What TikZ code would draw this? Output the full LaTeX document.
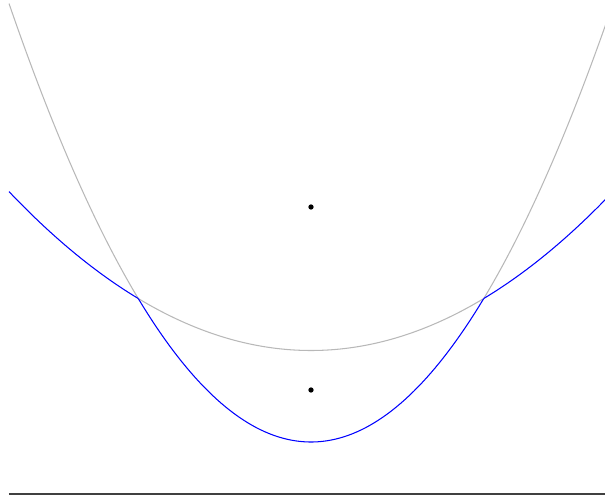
\documentclass[tikz,border=0pt]{standalone}
\usepackage{tikz}
\usetikzlibrary{positioning}
\usepackage{xcolor}

\begin{document}
\begin{tikzpicture}[x=1cm,y=1cm]
        \useasboundingbox (0,0) rectangle (12.1,9.96);
        \tikzset{focus/.style={circle,fill=black,inner sep=0pt,minimum size=3pt}}
        \node[focus] (fa) at (6.22,2.16) {};
        \node[focus] (fb) at (6.22,5.82) {};
        \coordinate (dl) at (0.18,0.08);
        \coordinate (dr) at (12.1,0.08);
        \draw[line width=1.1pt,black!75] (dl)--(dr);
        % parts left over
        \draw[black!28,line width=0.6pt,domain=-6.04:-3.455,samples=60] plot ({6.22+\x},{\x*\x/4.16+1.12});
        \draw[black!28,line width=0.6pt,domain=3.455:5.9,samples=60] plot ({6.22+\x},{\x*\x/4.16+1.12});
        \draw[black!28,line width=0.6pt,domain=-3.455:3.455,samples=80] plot ({6.22+\x},{\x*\x/11.48+2.95});
        % lower envelope
        \draw[blue,line width=0.6pt,domain=-6.04:-3.455,samples=60] plot ({6.22+\x},{\x*\x/11.48+2.95});
        \draw[blue,line width=0.6pt,domain=-3.455:3.455,samples=80] plot ({6.22+\x},{\x*\x/4.16+1.12});
        \draw[blue,line width=0.6pt,domain=3.455:5.9,samples=60] plot ({6.22+\x},{\x*\x/11.48+2.95});
      \end{tikzpicture}
\end{document}
